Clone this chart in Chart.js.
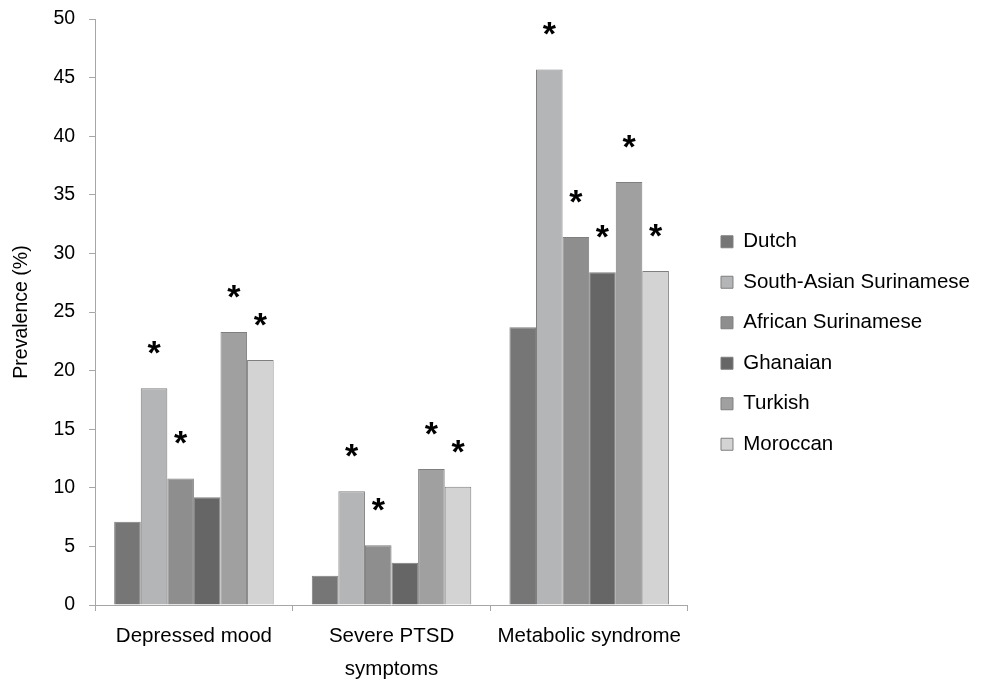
<!DOCTYPE html>
<html>
<head>
<meta charset="utf-8">
<script src="https://cdn.jsdelivr.net/npm/chart.js@4.4.1/dist/chart.umd.min.js"></script>
<style>
  html, body { margin: 0; padding: 0; background: #fff; }
  #wrap { width: 984px; height: 684px; position: relative; }
</style>
</head>
<body>
<div id="wrap"><canvas id="barChart"></canvas></div>
<script>
// categories (multi-line label for the middle group)
const categories = ['Depressed mood', ['Severe PTSD', 'symptoms'], 'Metabolic syndrome'];

// prevalence (%) per group
const dutch      = [7.1, 2.5, 23.7];
const southAsian = [18.5, 9.7, 45.7];
const african    = [10.8, 5.1, 31.4];
const ghanaian   = [9.2, 3.6, 28.4];
const turkish    = [23.3, 11.6, 36.1];
const moroccan   = [20.9, 10.1, 28.5];

// significance markers (*) vs Dutch
const dutchSig      = [false, false, false];
const southAsianSig = [true, true, true];
const africanSig    = [true, true, true];
const ghanaianSig   = [false, false, true];
const turkishSig    = [true, true, true];
const moroccanSig   = [true, true, true];

const yTicks = [0, 5, 10, 15, 20, 25, 30, 35, 40, 45, 50];

const FONT = '"Liberation Sans", Arial, sans-serif';
Chart.defaults.font.family = FONT;
Chart.defaults.color = '#000';

function series(label, data, sig, color) {
    return {
        label: label,
        data: data,
        sig: sig,
        backgroundColor: color,
        borderColor: '#7f7f7f',
        borderWidth: 1,
        yAxisID: 'y'
    };
}

// draws the * above significant bars
const starPlugin = {
    id: 'stars',
    afterDatasetsDraw(chart) {
        const ctx = chart.ctx;
        ctx.save();
        ctx.font = 'bold 34px ' + FONT;
        ctx.fillStyle = '#000';
        ctx.textAlign = 'center';
        ctx.textBaseline = 'alphabetic';
        chart.data.datasets.forEach((ds, i) => {
            const meta = chart.getDatasetMeta(i);
            meta.data.forEach((bar, j) => {
                if (ds.sig[j]) ctx.fillText('*', bar.x, bar.y - 24);
            });
        });
        ctx.restore();
    }
};

const ctx = document.getElementById('barChart').getContext('2d');
const barChart = new Chart(ctx, {
    type: 'bar',
    data: {
        labels: categories,
        datasets: [
            series('Dutch', dutch, dutchSig, '#767676'),
            series('South-Asian Surinamese', southAsian, southAsianSig, '#b4b5b7'),
            series('African Surinamese', african, africanSig, '#8e8e8e'),
            series('Ghanaian', ghanaian, ghanaianSig, '#666666'),
            series('Turkish', turkish, turkishSig, '#a0a0a0'),
            series('Moroccan', moroccan, moroccanSig, '#d3d3d3')
        ]
    },
    options: {
        responsive: true,
        maintainAspectRatio: false,
        animation: false,
        datasets: {
            bar: { categoryPercentage: 0.807, barPercentage: 1.0 }
        },
        layout: { padding: { top: 2, left: 0, right: 4, bottom: 0 } },
        scales: {
            x: {
                grid: { drawOnChartArea: false, tickLength: 6, color: '#a6a6a6' },
                border: { color: '#a6a6a6' },
                ticks: {
                    font: { size: 20.5, lineHeight: 1.61 },
                    padding: 9,
                    maxRotation: 0,
                    autoSkip: false
                },
                afterFit: scale => { scale.height = 79; }
            },
            y: {
                min: 0,
                max: 50,
                afterBuildTicks: scale => {
                    scale.ticks = yTicks.map(v => ({ value: v }));
                },
                afterFit: scale => { scale.paddingTop = 19; },
                grid: { drawOnChartArea: false, tickLength: 6, color: '#a6a6a6' },
                border: { color: '#a6a6a6' },
                ticks: { font: { size: 19.5 }, padding: 14 },
                title: {
                    display: true,
                    text: 'Prevalence (%)',
                    font: { size: 19.5 },
                    padding: { top: 10, bottom: 6 }
                }
            },
            gap: {
                // empty spacer between plot and legend
                type: 'linear',
                position: 'right',
                display: true,
                grid: { display: false },
                border: { display: false },
                ticks: { display: false },
                afterFit: scale => { scale.width = 13; }
            }
        },
        plugins: {
            legend: {
                position: 'right',
                maxWidth: 300,
                labels: {
                    boxWidth: 12,
                    boxHeight: 12,
                    padding: 20,
                    font: { size: 20.5 },
                    color: '#000'
                }
            },
            tooltip: { enabled: false }
        }
    },
    plugins: [starPlugin]
});
</script>
</body>
</html>
